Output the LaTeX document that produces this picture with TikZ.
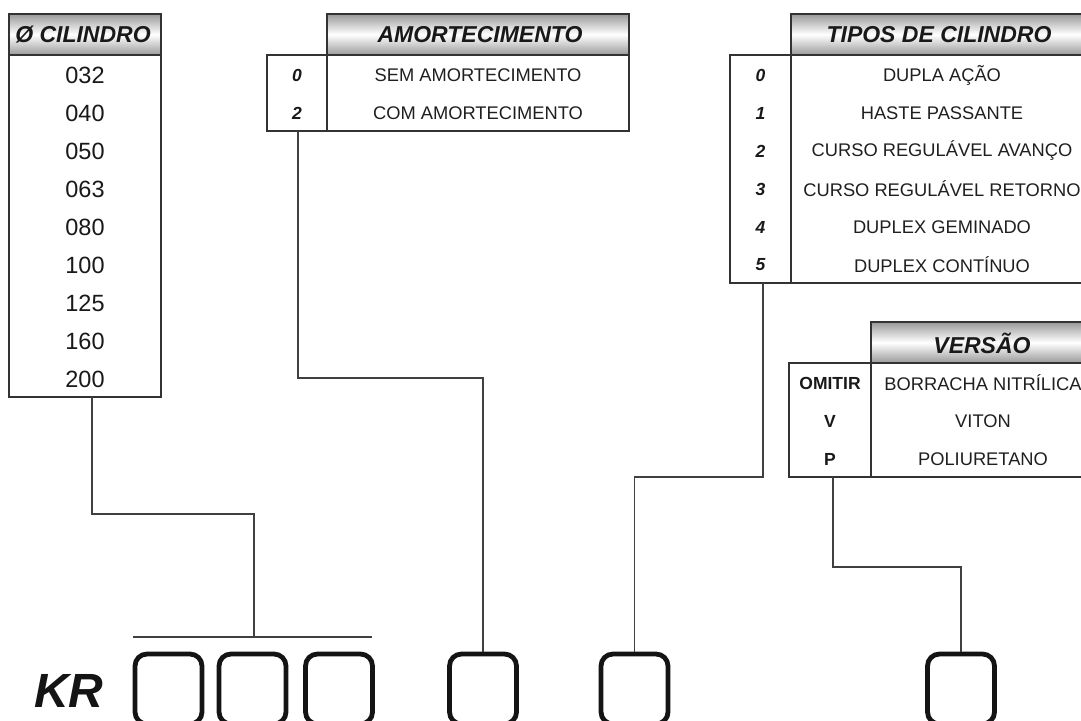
\documentclass[tikz,border=0pt]{standalone}
\usepackage{fontspec}
\setmainfont{Liberation Sans}
\begin{document}
\begin{tikzpicture}[x=1pt,y=-1pt,
  hdr/.style={draw=black!80,line width=1.4pt,top color=black!40,bottom color=black!40,middle color=white},
  tbody/.style={draw=black!80,line width=1.4pt},
  htext/.style={font=\fontsize{23}{26}\selectfont\bfseries\itshape,text=black!90,inner sep=0pt},
  rtext/.style={font=\fontsize{18.3}{20}\selectfont,text=black!88,inner sep=0pt},
  ntext/.style={font=\fontsize{23.5}{26}\selectfont,text=black!90,inner sep=0pt},
  ktext/.style={font=\fontsize{17.5}{19}\selectfont\bfseries\itshape,text=black!90,inner sep=0pt},
  vtext/.style={font=\fontsize{17.5}{19}\selectfont\bfseries,text=black!90,inner sep=0pt},
  kbox/.style={draw=black!92,line width=4.8pt,rounded corners=12pt,minimum width=67pt,minimum height=70pt,inner sep=0pt},
  conn/.style={draw=black!75,line width=1.3pt}]
\clip (0,0) rectangle (1081,720);
\fill[white] (0,0) rectangle (1081,720);

% ---- CILINDRO table
\path[hdr] (9,14) rectangle (161,55);
\path[tbody] (9,55) rectangle (161,397);
\node[htext] (hcil) at (83,35) {Ø CILINDRO};
\foreach \t [count=\i from 0] in {032,040,050,063,080,100,125,160,200}
  \node[ntext] (cil\i) at (85,75+38*\i) {\t};
\coordinate (cilout) at (92,397);

% ---- AMORTECIMENTO table
\path[hdr] (327,14) rectangle (629,55);
\path[tbody] (267,55) rectangle (629,131);
\draw[tbody] (327,55) -- (327,131);
\node[htext] (hamo) at (480,35) {AMORTECIMENTO};
\node[ktext] (a0) at (297,75) {0};
\node[ktext] (a2) at (297,113) {2};
\node[rtext] (at0) at (478,75) {SEM AMORTECIMENTO};
\node[rtext] (at2) at (478,113) {COM AMORTECIMENTO};
\coordinate (amoout) at (298,131);

% ---- TIPOS DE CILINDRO table
\path[hdr] (791,14) rectangle (1091,55);
\path[tbody] (730,55) rectangle (1091,283);
\draw[tbody] (791,55) -- (791,283);
\node[htext] (htip) at (939,35) {TIPOS DE CILINDRO};
\foreach \k/\t [count=\i from 0] in {0/DUPLA AÇÃO,1/HASTE PASSANTE,2/CURSO REGULÁVEL AVANÇO,3/CURSO REGULÁVEL RETORNO,4/DUPLEX GEMINADO,5/DUPLEX CONTÍNUO}{
  \node[ktext] (tk\i) at (760.5,75+38*\i) {\k};
  \node[rtext] (tt\i) at (942,75+38*\i) {\t};
}
\coordinate (tipout) at (763,283);

% ---- VERSAO table
\path[hdr] (871,322) rectangle (1093,363);
\path[tbody] (789,363) rectangle (1093,477);
\draw[tbody] (871,363) -- (871,477);
\node[htext] (hver) at (982,343) {VERSÃO};
\foreach \k/\t [count=\i from 0] in {OMITIR/BORRACHA NITRÍLICA,V/VITON,P/POLIURETANO}{
  \node[vtext] (vk\i) at (830,383+38*\i) {\k};
  \node[rtext] (vt\i) at (983,383+38*\i) {\t};
}
\coordinate (verout) at (833,477);

% ---- code boxes
\node[font=\fontsize{48}{52}\selectfont\bfseries\itshape,text=black!92,inner sep=0pt,anchor=base west] (kr) at (34,707) {KR};
\node[kbox] (b1) at (168.5,689) {};
\node[kbox] (b2) at (252.5,689) {};
\node[kbox] (b3) at (339,689) {};
\node[kbox] (b4) at (483,689) {};
\node[kbox] (b5) at (634.5,689) {};
\node[kbox] (b6) at (961,689) {};

% ---- connectors
\coordinate (brl) at (133,637);
\coordinate (brr) at (372,637);
\coordinate (brm) at (254,637);
\draw[conn] (brl) -- (brr);
\draw[conn] (cilout) -- (92,514) -- (254,514) -- (brm);
\draw[conn] (amoout) -- (298,378) -- (483,378) -- (b4.north);
\draw[conn] (tipout) -- (763,477) -- (634.5,477) -- (b5.north);
\draw[conn] (verout) -- (833,567) -- (961,567) -- (b6.north);
\end{tikzpicture}
\end{document}
